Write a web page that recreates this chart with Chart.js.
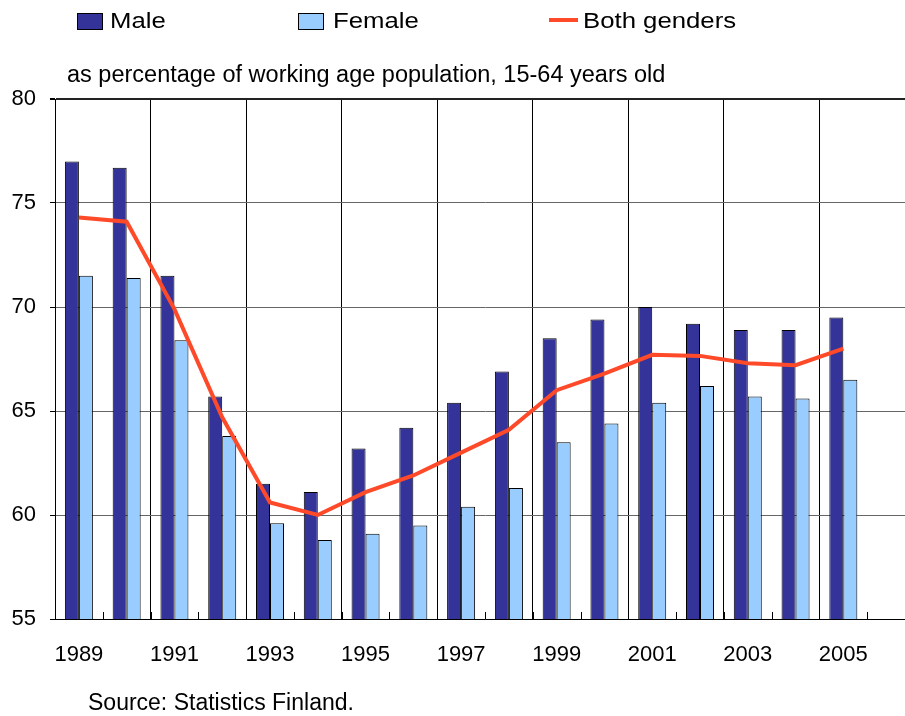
<!DOCTYPE html>
<html>
<head>
<meta charset="utf-8">
<script src="https://cdn.jsdelivr.net/npm/chart.js@4"></script>
<style>
  html, body { margin: 0; padding: 0; overflow: hidden; background: #fff; }
  #wrap { position: relative; width: 915px; height: 716px; font-family: "Liberation Sans", Arial, sans-serif; color: #000; }
  canvas { position: absolute; left: 0; top: 0; }
  .txt { position: absolute; white-space: nowrap; }
  .leg { position: absolute; top: 10px; font-size: 22px; line-height: 22px; white-space: nowrap; transform: scaleX(1.17); transform-origin: left; }
  .box { position: absolute; top: 13px; width: 24px; height: 15px; border: 1px solid #000; }
  .ln { position: absolute; top: 18px; width: 29px; height: 4px; background: #ff4a2a; }
</style>
</head>
<body>
<div id="wrap">
  <canvas id="chart" width="915" height="716"></canvas>
  <div class="box" style="left:77px;background:#333399"></div>
  <div class="leg" style="left:110px">Male</div>
  <div class="box" style="left:298px;background:#99ccff"></div>
  <div class="leg" style="left:333px">Female</div>
  <div class="ln" style="left:549px"></div>
  <div class="leg" style="left:583px">Both genders</div>
  <div class="txt" style="left:67px;top:63px;font-size:23.5px;line-height:23px">as percentage of working age population, 15-64 years old</div>
  <div class="txt" style="left:88px;top:691px;font-size:23px;line-height:23px">Source: Statistics Finland.</div>
</div>
<script>
const years = ["1989","1990","1991","1992","1993","1994","1995","1996","1997","1998","1999","2000","2001","2002","2003","2004","2005"];
const male = [77.0, 76.7, 71.5, 65.7, 61.5, 61.1, 63.2, 64.2, 65.4, 66.9, 68.5, 69.4, 70.0, 69.2, 68.9, 68.9, 69.5];
const female = [71.5, 71.4, 68.4, 63.8, 59.6, 58.8, 59.1, 59.5, 60.4, 61.3, 63.5, 64.4, 65.4, 66.2, 65.7, 65.6, 66.5];
const both = [74.3, 74.1, 69.9, 64.7, 60.6, 60.0, 61.1, 61.9, 63.0, 64.1, 66.0, 66.8, 67.7, 67.65, 67.3, 67.2, 68.0];
const yTicks = [55, 60, 65, 70, 75, 80];

// one empty slot after 2005 so the plot runs on past the window edge
const categories = years.concat([""]);

const innerTicks = {
  id: "innerTicks",
  beforeDatasetsDraw(chart) {
    const x = chart.scales.x;
    const ctx = chart.ctx;
    const w = x.getPixelForValue(1) - x.getPixelForValue(0);
    const bottom = chart.chartArea.bottom;
    ctx.save();
    ctx.strokeStyle = "#000";
    ctx.lineWidth = 1;
    for (let i = 0; i <= categories.length; i++) {
      const px = Math.round(x.getPixelForValue(i) - w / 2) + 0.5;
      ctx.beginPath();
      ctx.moveTo(px, bottom);
      ctx.lineTo(px, bottom - 7);
      ctx.stroke();
    }
    ctx.restore();
  }
};

new Chart(document.getElementById("chart"), {
  type: "bar",
  data: {
    labels: categories,
    datasets: [
      { type: "line", label: "Both genders", data: both, borderColor: "#ff4a2a", borderWidth: 4,
        pointRadius: 0, tension: 0, fill: false, order: 0 },
      { label: "Male", data: male, backgroundColor: "#333399", borderColor: "#000", borderWidth: 1, order: 1 },
      { label: "Female", data: female, backgroundColor: "#99ccff", borderColor: "#000", borderWidth: 1, order: 2 }
    ]
  },
  options: {
    responsive: false,
    animation: false,
    devicePixelRatio: 1,
    categoryPercentage: 0.586,
    barPercentage: 1.0,
    layout: { padding: { top: 99, left: 0, right: 0, bottom: 0 } },
    plugins: { legend: { display: false }, tooltip: { enabled: false } },
    scales: {
      x: {
        offset: true,
        grid: {
          offset: true,
          drawTicks: false,
          tickLength: 0,
          color: c => (c.index % 2 === 0 ? "#000" : "rgba(0,0,0,0)"),
          lineWidth: 1
        },
        border: { display: true, color: "#000", width: 1 },
        ticks: {
          autoSkip: false,
          maxRotation: 0,
          padding: 23,
          color: "#000",
          font: { family: "Liberation Sans", size: 22 },
          callback: (v, i) => (i % 2 === 0 ? categories[i] : "")
        },
        afterFit: s => { s.height = 97; }
      },
      y: {
        min: 55,
        max: 80,
        afterBuildTicks: s => { s.ticks = yTicks.map(v => ({ value: v })); },
        grid: {
          color: c => (c.tick && c.tick.value === 80 ? "#222" : "#666"),
          lineWidth: c => (c.tick && c.tick.value === 80 ? 2 : 1),
          tickColor: "#000",
          tickLength: 5
        },
        border: { display: true, color: "#000", width: 1 },
        ticks: {
          padding: 14,
          color: "#000",
          font: { family: "Liberation Sans", size: 22 }
        },
        afterFit: s => { s.width = 55; }
      }
    }
  },
  plugins: [innerTicks]
});
</script>
</body>
</html>
